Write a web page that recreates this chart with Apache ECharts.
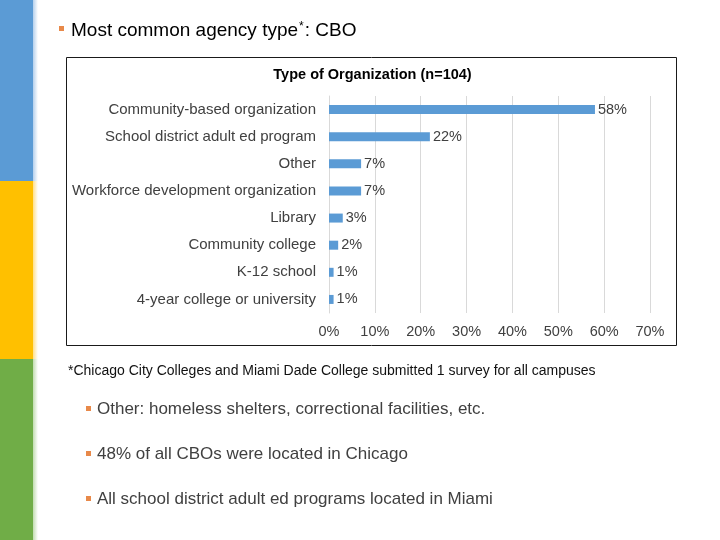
<!DOCTYPE html>
<html>
<head>
<meta charset="utf-8">
<script src="https://cdn.jsdelivr.net/npm/echarts@6/dist/echarts.min.js"></script>
<style>
html,body{margin:0;padding:0;background:#fff;}
#main{width:720px;height:540px;}
</style>
</head>
<body>
<div id="main"></div>
<script>
const categories = [
  "Community-based organization",
  "School district adult ed program",
  "Other",
  "Workforce development organization",
  "Library",
  "Community college",
  "K-12 school",
  "4-year college or university"
];
const percentValues = [58, 22, 7, 7, 3, 2, 1, 1];
const xTickMax = 70;
const xTickStep = 10;
const chartTitle = "Type of Organization (n=104)";
const footnote = "*Chicago City Colleges and Miami Dade College submitted 1 survey for all campuses";
const bullets = [
  "Other: homeless shelters, correctional facilities, etc.",
  "48% of all CBOs were located in Chicago",
  "All school district adult ed programs located in Miami"
];

const FONT = "Liberation Sans, Arial, sans-serif";
const chart = echarts.init(document.getElementById('main'), null, {renderer: 'canvas'});

const graphics = [
  // sidebar
  {type:'rect', shape:{x:0,y:0,width:33,height:181}, style:{fill:'#5b9bd5'}},
  {type:'rect', shape:{x:0,y:181,width:33,height:178}, style:{fill:'#ffc000'}},
  {type:'rect', shape:{x:0,y:359,width:33,height:181}, style:{fill:'#70ad47'}},
  {type:'rect', shape:{x:33,y:0,width:5,height:181}, style:{fill:{type:'linear',x:0,y:0,x2:1,y2:0,colorStops:[{offset:0,color:'#b5d0ec'},{offset:1,color:'#ffffff'}]}}},
  {type:'rect', shape:{x:33,y:181,width:5,height:178}, style:{fill:{type:'linear',x:0,y:0,x2:1,y2:0,colorStops:[{offset:0,color:'#ffe08a'},{offset:1,color:'#ffffff'}]}}},
  {type:'rect', shape:{x:33,y:359,width:5,height:181}, style:{fill:{type:'linear',x:0,y:0,x2:1,y2:0,colorStops:[{offset:0,color:'#c2dcb0'},{offset:1,color:'#ffffff'}]}}},
  // header
  {type:'rect', shape:{x:59,y:26,width:5,height:5}, style:{fill:'#e8894a'}},
  {type:'text', x:71, y:30.5, style:{
    text:'Most common agency type{s|*}: CBO',
    rich:{s:{fontSize:12, verticalAlign:'top', padding:[0,1,8,1], fontFamily:FONT, fill:'#000'}},
    fontSize:19, fontFamily:FONT, fill:'#000', verticalAlign:'middle', align:'left'}},
  // chart box
  {type:'rect', shape:{x:66.5,y:57.5,width:610,height:288}, style:{fill:'none', stroke:'#1a1a1a', lineWidth:1}},
  {type:'text', x:372.5, y:74.5, style:{text:chartTitle, fontSize:14.5, fontWeight:'bold', fontFamily:FONT, fill:'#000', align:'center', verticalAlign:'middle'}},
  // footnote
  {type:'text', x:68, y:371, style:{text:footnote, fontSize:14, fontFamily:FONT, fill:'#111', align:'left', verticalAlign:'middle'}}
];
bullets.forEach((b,i)=>{
  const y = 409.5 + i*45;
  graphics.push({type:'rect', shape:{x:86,y:y-3.5,width:5,height:5}, style:{fill:'#e8894a'}});
  graphics.push({type:'text', x:97, y:y, style:{text:b, fontSize:17, fontFamily:FONT, fill:'#404040', align:'left', verticalAlign:'middle'}});
});

chart.setOption({
  animation:false,
  textStyle:{fontFamily:FONT},
  grid:{left:329, right:70, top:96, bottom:227, containLabel:false},
  xAxis:{
    type:'value', min:0, max:xTickMax, interval:xTickStep,
    axisLine:{show:false}, axisTick:{show:false},
    axisLabel:{formatter:'{value}%', color:'#404040', fontSize:14.5, margin:11},
    splitLine:{show:true, lineStyle:{color:'#d9d9d9', width:1}}
  },
  yAxis:{
    type:'category', data:categories, inverse:true,
    axisTick:{show:false},
    axisLine:{show:true, lineStyle:{color:'#d9d9d9'}},
    axisLabel:{color:'#404040', fontSize:15, margin:13}
  },
  series:[{
    type:'bar', data:percentValues, barWidth:9,
    itemStyle:{color:'#5b9bd5'},
    label:{show:true, position:'right', distance:3, formatter:'{c}%', color:'#404040', fontSize:14.5}
  }],
  graphic:graphics
});
</script>
</body>
</html>
